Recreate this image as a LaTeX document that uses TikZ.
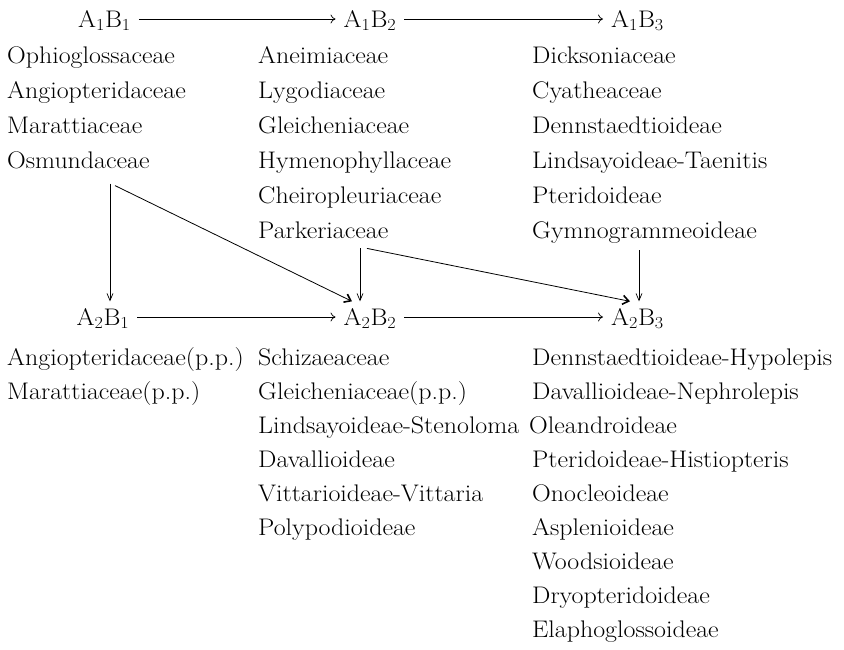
\documentclass[tikz,border=0pt]{standalone}
\usepackage{fontspec}
\setmainfont{Latin Modern Roman}[FakeStretch=1.08]
\usetikzlibrary{arrows.meta}
\tikzset{
  txt/.style={anchor=base west, inner sep=0pt, font=\fontsize{24}{29}\selectfont},
  grp/.style={anchor=base, inner xsep=8pt, inner ysep=6.5pt, font=\fontsize{24}{29}\selectfont},
  harrow/.style={line width=0.7pt, -{To[length=5pt,width=9pt]}},
  varrow/.style={line width=0.7pt, -{Straight Barb[length=7pt,width=6pt,line width=0.7pt]}},
  darrow/.style={line width=0.8pt, -{Straight Barb[length=6pt,width=9pt,line width=1.6pt]}},
}
\newcommand{\grpname}[2]{A\textsubscript{#1}B\textsubscript{#2}}
\begin{document}
\begin{tikzpicture}[x=1pt,y=-1pt]
\useasboundingbox (0,0) rectangle (844,649);
% group headings
\node[grp] (a11) at (104.5,27) {\grpname{1}{1}};
\node[grp] (a12) at (370,27) {\grpname{1}{2}};
\node[grp] (a13) at (637.5,27) {\grpname{1}{3}};
\node[grp] (a21) at (103,325) {\grpname{2}{1}};
\node[grp] (a22) at (370,325) {\grpname{2}{2}};
\node[grp] (a23) at (637.5,325) {\grpname{2}{3}};
% column 1 upper
\node[txt] (u11) at (7,63) {Ophioglossaceae};
\node[txt] (u12) at (7,98) {Angiopteridaceae};
\node[txt] (u13) at (7,133) {Marattiaceae};
\node[txt] (osm) at (7,168) {Osmundaceae};
% column 2 upper
\node[txt] (u21) at (258,63) {Aneimiaceae};
\node[txt] (u22) at (258,98) {Lygodiaceae};
\node[txt] (u23) at (258,133) {Gleicheniaceae};
\node[txt] (u24) at (258,168) {Hymenophyllaceae};
\node[txt] (u25) at (258,203) {Cheiropleuriaceae};
\node[txt] (park) at (258,238) {Parkeriaceae};
% column 3 upper
\node[txt] (u31) at (532,63) {Dicksoniaceae};
\node[txt] (u32) at (532,98) {Cyatheaceae};
\node[txt] (u33) at (532,133) {Dennstaedtioideae};
\node[txt] (u34) at (532,168) {Lindsayoideae-Taenitis};
\node[txt] (u35) at (532,203) {Pteridoideae};
\node[txt] (gym) at (532,238) {Gymnogrammeoideae};
% column 1 lower
\node[txt] (l11) at (7,365) {Angiopteridaceae(p.p.)};
\node[txt] (l12) at (7,399) {Marattiaceae(p.p.)};
% column 2 lower
\node[txt] (l21) at (258,365) {Schizaeaceae};
\node[txt] (l22) at (258,399) {Gleicheniaceae(p.p.)};
\node[txt] (l23) at (258,433) {Lindsayoideae-Stenoloma};
\node[txt] (l24) at (258,467) {Davallioideae};
\node[txt] (l25) at (258,501) {Vittarioideae-Vittaria};
\node[txt] (l26) at (258,535) {Polypodioideae};
% column 3 lower
\node[txt] (l31) at (532,365) {Dennstaedtioideae-Hypolepis};
\node[txt] (l32) at (532,399) {Davallioideae-Nephrolepis};
\node[txt] (l33) at (529,433) {Oleandroideae};
\node[txt] (l34) at (532,467) {Pteridoideae-Histiopteris};
\node[txt] (l35) at (532,501) {Onocleoideae};
\node[txt] (l36) at (532,535) {Asplenioideae};
\node[txt] (l37) at (532,569) {Woodsioideae};
\node[txt] (l38) at (532,603) {Dryopteridoideae};
\node[txt] (l39) at (532,637) {Elaphoglossoideae};
% horizontal arrows
\draw[harrow] ([yshift=8pt]a11.base east) -- ([yshift=8pt]a12.base west);
\draw[harrow] ([yshift=8pt]a12.base east) -- ([yshift=8pt]a13.base west);
\draw[harrow] ([yshift=8pt]a21.base east) -- ([yshift=8pt]a22.base west);
\draw[harrow] ([yshift=8pt]a22.base east) -- ([yshift=8pt]a23.base west);
% vertical arrows
\draw[varrow, shorten <=15pt] ([xshift=7pt]a21.north |- osm.south) -- ([xshift=7pt]a21.north);
\draw[varrow, shorten <=10pt] ([xshift=-10pt]a22.north |- park.south) -- ([xshift=-10pt]a22.north);
\draw[varrow, shorten <=7pt] ([xshift=1.5pt]a23.north |- gym.south) -- ([xshift=1.5pt]a23.north);
% diagonal arrows
\draw[darrow] ([xshift=108pt,yshift=-17pt]osm.south west) -- ([xshift=-18pt]a22.north);
\draw[darrow] ([xshift=109pt,yshift=-10pt]park.south west) -- ([xshift=-7.5pt]a23.north);
\end{tikzpicture}
\end{document}
